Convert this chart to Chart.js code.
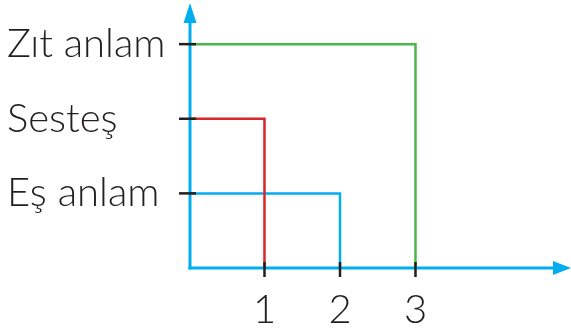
<!DOCTYPE html>
<html><head><meta charset="utf-8">
<script src="https://cdn.jsdelivr.net/npm/chart.js@4"></script>
<style>html,body{margin:0;padding:0;background:#fff}#wrap{width:571px;height:334px}</style>
</head><body><div id="wrap"><canvas id="c" width="571" height="334"></canvas></div>
<script>
const categories = ["Eş anlam", "Sesteş", "Zıt anlam"];
const categoryLevels = [1, 2, 3];
const values = [2, 1, 3];
const xTicks = [1, 2, 3];
const seriesColors = ["#00AEEF", "#D7262C", "#4BB64A"];

const BLUE = "#00AEEF", INK = "#231F20";
const FONT = "Lato, 'Open Sans', sans-serif";

function path(i) {
  return [{x: 0, y: categoryLevels[i]}, {x: values[i], y: categoryLevels[i]}, {x: values[i], y: 0}];
}
// red on top: dataset 0 drawn last
const order = [1, 0, 2];
const datasets = order.map(i => ({
  label: categories[i],
  data: path(i),
  showLine: true,
  borderColor: seriesColors[i],
  borderWidth: 2.5,
  pointRadius: 0,
  tension: 0,
  clip: false
}));

const axesPlugin = {
  id: 'axesArrows',
  beforeDatasetsDraw(chart) {
    const {ctx} = chart, xs = chart.scales.x, ys = chart.scales.y;
    const x0 = xs.getPixelForValue(0) + 1, y0 = ys.getPixelForValue(0);
    ctx.save();
    ctx.strokeStyle = BLUE; ctx.fillStyle = BLUE; ctx.lineWidth = 3;
    ctx.beginPath(); ctx.moveTo(x0, y0 + 1.5); ctx.lineTo(x0, 18); ctx.stroke();
    ctx.beginPath(); ctx.moveTo(x0 - 1.5, y0); ctx.lineTo(558, y0); ctx.stroke();
    ctx.beginPath(); ctx.moveTo(x0, 3); ctx.lineTo(x0 - 6.5, 23); ctx.lineTo(x0 + 6.5, 23); ctx.closePath(); ctx.fill();
    ctx.beginPath(); ctx.moveTo(571, y0); ctx.lineTo(553, y0 - 7); ctx.lineTo(553, y0 + 7); ctx.closePath(); ctx.fill();
    ctx.restore();
  },
  afterDatasetsDraw(chart) {
    const {ctx} = chart, xs = chart.scales.x, ys = chart.scales.y;
    const x0 = xs.getPixelForValue(0) + 1, y0 = ys.getPixelForValue(0);
    ctx.save();
    ctx.strokeStyle = INK; ctx.lineWidth = 2.5;
    ys.ticks.forEach(t => {
      const y = ys.getPixelForValue(t.value);
      ctx.beginPath(); ctx.moveTo(x0 - 11, y); ctx.lineTo(x0 + 6, y); ctx.stroke();
    });
    xs.ticks.forEach(t => {
      const x = xs.getPixelForValue(t.value);
      ctx.beginPath(); ctx.moveTo(x, y0 - 6); ctx.lineTo(x, y0 + 9); ctx.stroke();
    });
    ctx.restore();
  }
};

new Chart(document.getElementById('c'), {
  type: 'scatter',
  data: {datasets},
  plugins: [axesPlugin],
  options: {
    responsive: false,
    animation: false,
    layout: {padding: {left: 7, top: 0, right: 0, bottom: 0}},
    plugins: {legend: {display: false}, tooltip: {enabled: false}},
    scales: {
      x: {
        type: 'linear', min: 0, max: 5.06,
        afterBuildTicks: s => { s.ticks = xTicks.map(v => ({value: v})); },
        afterFit: s => { s.height = 66; },
        border: {display: false},
        grid: {display: false, drawTicks: false},
        ticks: {color: INK, padding: 18, maxRotation: 0, font: {family: FONT, size: 40, weight: 300}}
      },
      y: {
        type: 'linear', min: 0, max: 3.27,
        afterBuildTicks: s => { s.ticks = categoryLevels.map(v => ({value: v})); },
        afterFit: s => { s.width = 182; },
        border: {display: false},
        grid: {display: false, drawTicks: false},
        ticks: {
          color: INK, crossAlign: 'far', padding: 0,
          font: {family: FONT, size: 40, weight: 300},
          callback: v => categories[categoryLevels.indexOf(v)] ?? ''
        }
      }
    }
  }
});
</script>
</body></html>
